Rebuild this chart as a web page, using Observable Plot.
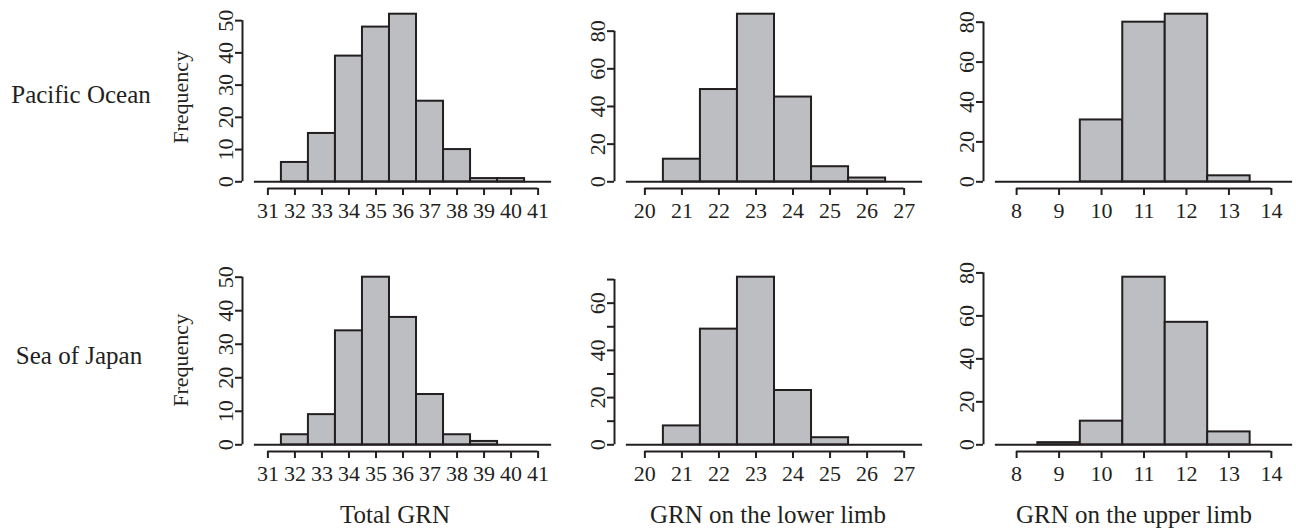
<!DOCTYPE html>
<html>
<head>
<meta charset="utf-8">
<script src="https://cdn.jsdelivr.net/npm/d3@7"></script>
<script src="https://cdn.jsdelivr.net/npm/@observablehq/plot@0.6"></script>
<style>
  html, body { margin: 0; padding: 0; background: #ffffff; }
  #wrap { position: relative; width: 1296px; height: 532px; overflow: hidden; background: #ffffff; }
  #wrap svg.panel { position: absolute; max-width: none; overflow: visible; }
  #overlay { position: absolute; left: 0; top: 0; pointer-events: none; }
  #wrap svg, #wrap text { font-family: "Liberation Serif", "DejaVu Serif", "Noto Serif", "Times New Roman", serif !important; }
</style>
</head>
<body>
<div id="wrap"></div>
<script>
// ---- data ----
const totalBins = [31, 32, 33, 34, 35, 36, 37, 38, 39, 40, 41];
const lowerBins = [20, 21, 22, 23, 24, 25, 26, 27];
const upperBins = [8, 9, 10, 11, 12, 13, 14];

const pacificTotal = [0, 6, 15, 39, 48, 52, 25, 10, 1, 1, 0];
const pacificLower = [0, 12, 49, 89, 45, 8, 2, 0];
const pacificUpper = [0, 0, 31, 80, 84, 3, 0];

const japanTotal = [0, 3, 9, 34, 50, 38, 15, 3, 1, 0, 0];
const japanLower = [0, 8, 49, 71, 23, 3, 0, 0];
const japanUpper = [0, 1, 11, 78, 57, 6, 0];

const totalTicks = [31, 32, 33, 34, 35, 36, 37, 38, 39, 40, 41];
const lowerTicks = [20, 21, 22, 23, 24, 25, 26, 27];
const upperTicks = [8, 9, 10, 11, 12, 13, 14];

const yTicksPacTotal = [0, 10, 20, 30, 40, 50];
const yTicksPacLower = [0, 20, 40, 60, 80];
const yTicksPacUpper = [0, 20, 40, 60, 80];
const yTicksJapTotal = [0, 10, 20, 30, 40, 50];
const yTicksJapLower = [0, 10, 20, 30, 40, 50, 60, 70];
const yTicksJapUpper = [0, 20, 40, 60, 80];

const yLabelsPacTotal = [0, 10, 20, 30, 40, 50];
const yLabelsPacLower = [0, 20, 40, 60, 80];
const yLabelsPacUpper = [0, 20, 40, 60, 80];
const yLabelsJapTotal = [0, 10, 20, 30, 40, 50];
const yLabelsJapLower = [0, 20, 40, 60];
const yLabelsJapUpper = [0, 20, 40, 60, 80];

const rowLabels = ["Pacific Ocean", "Sea of Japan"];
const colLabels = ["Total GRN", "GRN on the lower limb", "GRN on the upper limb"];
const yTitle = "Frequency";

// ---- style ----
const FONT = "Liberation Serif, DejaVu Serif, serif";
const INK = "#231f20";
const FILL = "#bdbec1";

// ---- layout ----
const colLeft = [241.7, 614.3, 983.3];
const colWidth = [321, 320, 321];
const rowTop = [6.8, 269.8];
const plotH = 181;
const mL = 60, mT = 7, mB = 52, mR = 0;

const panels = [
  {row: 0, col: 0, bins: totalBins, counts: pacificTotal, xt: totalTicks, yt: yTicksPacTotal, yl: yLabelsPacTotal},
  {row: 0, col: 1, bins: lowerBins, counts: pacificLower, xt: lowerTicks, yt: yTicksPacLower, yl: yLabelsPacLower},
  {row: 0, col: 2, bins: upperBins, counts: pacificUpper, xt: upperTicks, yt: yTicksPacUpper, yl: yLabelsPacUpper},
  {row: 1, col: 0, bins: totalBins, counts: japanTotal, xt: totalTicks, yt: yTicksJapTotal, yl: yLabelsJapTotal},
  {row: 1, col: 1, bins: lowerBins, counts: japanLower, xt: lowerTicks, yt: yTicksJapLower, yl: yLabelsJapLower},
  {row: 1, col: 2, bins: upperBins, counts: japanUpper, xt: upperTicks, yt: yTicksJapUpper, yl: yLabelsJapUpper}
];

const wrap = document.getElementById("wrap");

for (const p of panels) {
  const data = p.bins.map((b, i) => ({x1: b - 0.5, x2: b + 0.5, n: p.counts[i]}));
  const lo = p.bins[0] - 0.5, hi = p.bins[p.bins.length - 1] + 0.5;
  const w = hi - lo;
  const xDom = [lo - 0.04 * w, hi + 0.04 * w];
  const ymax = d3.max(p.counts);
  const yDom = [-0.04 * ymax, 1.04 * ymax];
  const width = mL + colWidth[p.col] + mR;
  const height = mT + plotH + mB;

  const chart = Plot.plot({
    width, height,
    marginLeft: mL, marginRight: mR, marginTop: mT, marginBottom: mB,
    x: {domain: xDom},
    y: {domain: yDom},
    style: {fontFamily: FONT, color: INK, background: "transparent", overflow: "visible"},
    marks: [
      Plot.ruleY([0], {x1: lo, x2: hi, stroke: INK, strokeWidth: 2}),
      Plot.rect(data, {x1: "x1", x2: "x2", y1: 0, y2: "n", inset: 0, fill: FILL, stroke: INK, strokeWidth: 2}),
      Plot.ruleY([yDom[0]], {x1: p.xt[0], x2: p.xt[p.xt.length - 1], stroke: INK, strokeWidth: 2}),
      Plot.axisX({ticks: p.xt, tickSize: 7, tickFormat: () => "", stroke: INK, strokeWidth: 2, label: null}),
      Plot.text(p.xt, {x: d => d, y: yDom[0], text: d => String(d), dy: 22, lineAnchor: "middle", textAnchor: "middle", fontSize: 22, fill: INK}),
      Plot.ruleX([xDom[0]], {y1: 0, y2: p.yt[p.yt.length - 1], stroke: INK, strokeWidth: 2}),
      Plot.axisY({ticks: p.yt, tickSize: 7, tickFormat: () => "", stroke: INK, strokeWidth: 2, label: null}),
      Plot.text(p.yl, {x: xDom[0], y: d => d, text: d => String(d), rotate: -90, dx: -17, lineAnchor: "middle", textAnchor: "middle", fontSize: 22, fill: INK})
    ]
  });
  chart.classList.add("panel");
  chart.style.left = (colLeft[p.col] - mL) + "px";
  chart.style.top = (rowTop[p.row] - mT) + "px";
  wrap.appendChild(chart);
}

// ---- free text (row labels, y title, column titles) ----
const ns = "http://www.w3.org/2000/svg";
const ov = document.createElementNS(ns, "svg");
ov.setAttribute("id", "overlay");
ov.setAttribute("width", 1296);
ov.setAttribute("height", 532);
function addText(str, x, y, size, rotate) {
  const t = document.createElementNS(ns, "text");
  t.textContent = str;
  t.setAttribute("text-anchor", "middle");
  t.setAttribute("font-family", FONT);
  t.setAttribute("font-size", size);
  t.setAttribute("fill", INK);
  if (rotate) {
    t.setAttribute("transform", `translate(${x},${y}) rotate(${rotate})`);
  } else {
    t.setAttribute("x", x);
    t.setAttribute("y", y);
  }
  ov.appendChild(t);
}
const rowLabelPos = [[81, 103], [79, 364]];
rowLabels.forEach((s, i) => addText(s, rowLabelPos[i][0], rowLabelPos[i][1], 25));
const yTitleY = [rowTop[0] + plotH / 2, rowTop[1] + plotH / 2];
yTitleY.forEach(y => addText(yTitle, 188, y, 22, -90));
const colLabelX = [395, 768, 1134];
colLabels.forEach((s, i) => addText(s, colLabelX[i], 523, 25));
wrap.appendChild(ov);
</script>
</body>
</html>
